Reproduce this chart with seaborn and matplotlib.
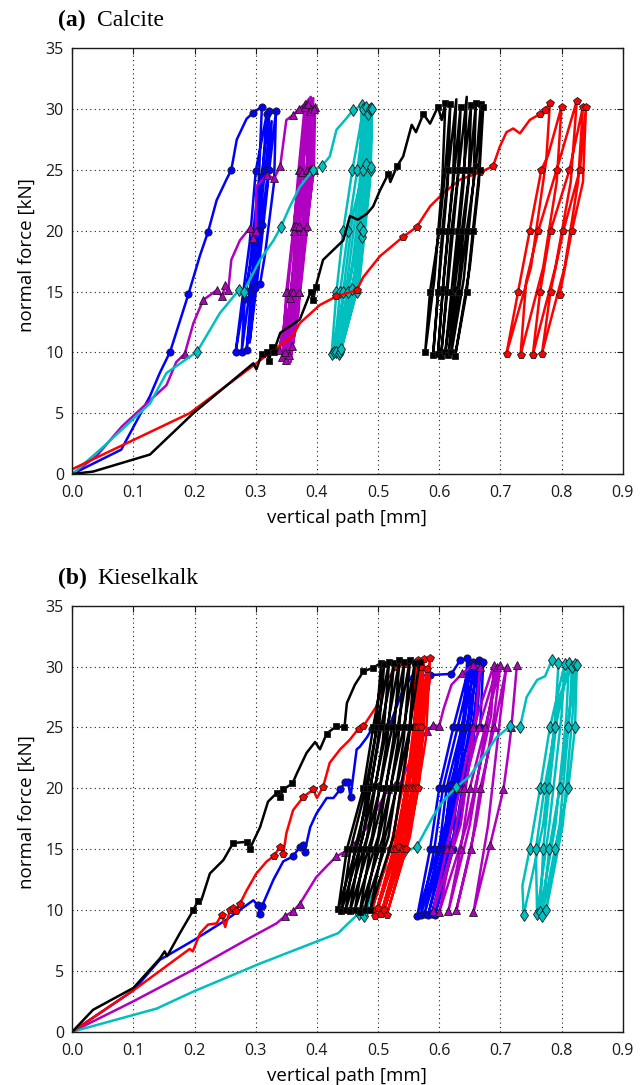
import matplotlib
matplotlib.use("Agg")
import matplotlib.pyplot as plt
import seaborn as sns
import pandas as pd

# ---------------- data (vertical path [mm], normal force [kN]) ----------------
A_BLUE_X = [0, 0.04, 0.08, 0.127, 0.143, 0.16, 0.19, 0.209, 0.222, 0.236, 0.252, 0.26, 0.269, 0.285, 0.296, 0.31,
            0.305, 0.29, 0.267, 0.277, 0.29, 0.30, 0.318,
            0.31, 0.295, 0.277, 0.282, 0.297, 0.31, 0.322,
            0.318, 0.30, 0.285, 0.293, 0.305, 0.315, 0.326,
            0.32, 0.305, 0.29, 0.299, 0.31, 0.322, 0.333,
            0.33, 0.315, 0.307]
A_BLUE_Y = [0, 1.0, 2.0, 6.4, 8.3, 10.05, 14.8, 18.0, 19.9, 22.5, 24.2, 25.0, 27.5, 29.2, 29.7, 30.2,
            24.2, 17, 10, 14.0, 19, 24.9, 29.6,
            24, 17, 10.05, 14.4, 19.0, 24.5, 29.8,
            24, 17, 10.2, 15.1, 20, 25, 29.0,
            24, 17, 10.8, 15.3, 20.5, 25, 29.8,
            24, 18, 15.6]

A_MAGENTA_X = [0, 0.04, 0.081, 0.154, 0.17, 0.184, 0.198, 0.214, 0.236, 0.245, 0.25, 0.255, 0.26, 0.274, 0.29, 0.295,
               0.30, 0.301, 0.318, 0.33, 0.34, 0.35, 0.361, 0.37, 0.38, 0.39,
               0.385, 0.365, 0.338, 0.346, 0.352, 0.362, 0.37, 0.38,
               0.378, 0.362, 0.343, 0.35, 0.362, 0.372, 0.385,
               0.383, 0.367, 0.35, 0.358, 0.366, 0.375, 0.39,
               0.388, 0.372, 0.355, 0.361, 0.37, 0.383, 0.394,
               0.392, 0.375, 0.357, 0.364, 0.372, 0.377, 0.388,
               0.386, 0.37, 0.348, 0.356, 0.37, 0.388, 0.397,
               0.395, 0.383, 0.371, 0.36, 0.37, 0.378, 0.39, 0.395]
A_MAGENTA_Y = [0, 1.5, 3.9, 7.3, 9.2, 9.9, 12.4, 14.3, 15.1, 14.6, 15.5, 15.1, 17.6, 19.2, 20.2, 19.4,
               20.0, 23.6, 24.6, 24.3, 25.3, 29.1, 29.5, 30.0, 30.4, 31.0,
               24, 16, 10.2, 12.2, 15, 20, 25, 30.2,
               24, 16, 9.6, 15, 20.4, 25, 30.4,
               24, 16, 9.4, 15, 20.4, 24.8, 30,
               24, 16.5, 9.8, 15, 20.3, 25, 30.9,
               24, 16, 9.2, 16.5, 22.7, 27.7, 29.8,
               24, 15, 10, 14.5, 20.4, 25, 30.2,
               25, 20.4, 15, 10.5, 13.3, 20, 25.1, 30]

A_CYAN_X = [0, 0.05, 0.127, 0.154, 0.204, 0.241, 0.272, 0.28, 0.307, 0.329, 0.341, 0.356, 0.372, 0.394, 0.408, 0.421,
            0.432, 0.446, 0.459, 0.473,
            0.47, 0.45, 0.424, 0.432, 0.443, 0.458, 0.476,
            0.474, 0.455, 0.428, 0.438, 0.451, 0.466, 0.48,
            0.478, 0.46, 0.432, 0.443, 0.459, 0.476, 0.483,
            0.481, 0.463, 0.436, 0.45, 0.47, 0.48, 0.486,
            0.484, 0.467, 0.438, 0.457, 0.474, 0.488, 0.489,
            0.487, 0.47, 0.44, 0.465, 0.476, 0.488, 0.49]
A_CYAN_Y = [0, 2.2, 5.8, 8.3, 10.05, 13.2, 15.1, 15.0, 17.6, 19.2, 20.3, 22.0, 23.6, 25.0, 25.3, 26.1,
            28.3, 29.1, 29.9, 30.3,
            24, 16, 9.9, 15, 20, 25, 30,
            24, 16, 10, 15, 20, 25, 30.2,
            24, 16, 10, 15, 21.4, 25, 29.6,
            24, 16, 9.9, 15, 20.3, 25.5, 30,
            24, 16, 10, 15.2, 19.5, 25, 30.1,
            24, 16, 10.3, 15, 20, 25.2, 30]

A_BLACK_X = [0, 0.034, 0.127, 0.198, 0.296, 0.301, 0.31, 0.318, 0.322, 0.326, 0.329, 0.34, 0.372, 0.39, 0.394, 0.398,
             0.41, 0.443, 0.454, 0.467, 0.482, 0.492, 0.503, 0.517, 0.52, 0.531, 0.541, 0.555, 0.562, 0.574, 0.585,
             0.598, 0.604, 0.61,
             0.605, 0.592, 0.577, 0.585, 0.6, 0.61, 0.618,
             0.614, 0.6, 0.59, 0.598, 0.605, 0.615, 0.628,
             0.622, 0.607, 0.598, 0.606, 0.615, 0.625, 0.635,
             0.63, 0.615, 0.603, 0.612, 0.62, 0.632, 0.645,
             0.64, 0.625, 0.61, 0.62, 0.63, 0.64, 0.652,
             0.648, 0.632, 0.615, 0.625, 0.637, 0.65, 0.66,
             0.656, 0.64, 0.62, 0.632, 0.645, 0.66, 0.668,
             0.665, 0.65, 0.626, 0.645, 0.655, 0.666, 0.672]
A_BLACK_Y = [0, 0.2, 1.6, 5.0, 9.1, 8.6, 9.9, 10.0, 9.3, 10.4, 10.0, 11.6, 12.7, 15.0, 14.3, 15.4,
             17.6, 19.2, 21.2, 20.9, 21.4, 22.0, 23.3, 24.7, 24.0, 25.3, 26.1, 28.7, 28.1, 29.6, 28.8,
             30.2, 29.1, 30.5,
             24, 16, 10, 15, 20, 25, 30.4,
             24, 16, 9.8, 15, 20, 25, 30.8,
             24, 16, 9.9, 15.2, 20, 25, 30.2,
             24, 16, 9.7, 15, 20, 25, 31,
             24, 16, 10, 15, 20, 25, 30.3,
             24, 16, 9.8, 15.2, 20, 25, 30.5,
             24, 16, 10, 15, 20, 25.3, 30.4,
             24, 17, 9.7, 15, 20, 25, 30.2]

A_RED_X = [0, 0.192, 0.301, 0.329, 0.36, 0.372, 0.405, 0.432, 0.465, 0.476, 0.503, 0.541, 0.563, 0.585, 0.607, 0.634,
           0.667, 0.688, 0.699, 0.71, 0.721, 0.732, 0.748, 0.765, 0.773, 0.781,
           0.775, 0.75, 0.71, 0.729, 0.748, 0.767, 0.778, 0.8,
           0.792, 0.77, 0.733, 0.742, 0.762, 0.792, 0.825,
           0.815, 0.79, 0.753, 0.765, 0.782, 0.813, 0.835,
           0.827, 0.805, 0.768, 0.782, 0.803, 0.83, 0.84,
           0.835, 0.817, 0.797]
A_RED_Y = [0.4, 5.0, 9.1, 10.2, 11.3, 12.4, 13.9, 14.6, 15.1, 16.2, 17.9, 19.5, 20.3, 22.0, 23.1, 24.2,
           24.8, 25.3, 26.9, 28.1, 28.4, 28.0, 29.1, 29.6, 29.9, 30.5,
           25.8, 17, 9.9, 15, 20, 25, 26.2, 30.2,
           24, 17, 9.8, 15.8, 20, 25, 30.7,
           24, 17, 9.8, 15, 20, 25, 30.2,
           24, 17, 9.9, 15, 20, 25, 30.2,
           24, 20, 14.7]

B_BLUE_X = [0, 0.1, 0.143, 0.198, 0.252, 0.296, 0.303, 0.307, 0.31, 0.329, 0.345, 0.361, 0.372, 0.378, 0.38, 0.389,
            0.399, 0.416, 0.427, 0.438, 0.446, 0.451, 0.455, 0.465, 0.47, 0.482, 0.49, 0.52, 0.54, 0.555, 0.585,
            0.62, 0.634, 0.646,
            0.64, 0.61, 0.564, 0.585, 0.6, 0.623, 0.65,
            0.643, 0.614, 0.57, 0.592, 0.606, 0.63, 0.655,
            0.648, 0.618, 0.576, 0.6, 0.612, 0.637, 0.66,
            0.653, 0.622, 0.582, 0.607, 0.618, 0.645, 0.665,
            0.658, 0.628, 0.588, 0.615, 0.624, 0.655, 0.668,
            0.662, 0.632, 0.593, 0.623, 0.628, 0.667, 0.672]
B_BLUE_Y = [0, 3.4, 5.9, 7.5, 9.2, 10.8, 10.4, 9.7, 10.3, 12.5, 14.0, 14.4, 15.2, 15.3, 14.8, 16.8,
            17.9, 19.2, 19.2, 19.9, 20.5, 20.5, 19.3, 23.2, 23.4, 24.2, 24.9, 25.3, 28.0, 29.2, 29.3,
            29.4, 30.5, 30.7,
            26, 17, 9.5, 15, 20, 25, 30.2,
            26, 17, 9.6, 15, 20, 25, 30.4,
            26, 17, 9.7, 15, 20, 25, 30.3,
            26, 17, 9.6, 15, 20.3, 25, 30.5,
            26, 17, 9.7, 15, 20, 25, 30.2,
            26, 17, 9.6, 15, 20, 25, 30.4]

B_MAGENTA_X = [0, 0.1, 0.198, 0.29, 0.334, 0.348, 0.361, 0.372, 0.399, 0.416, 0.432, 0.446, 0.459, 0.482, 0.497,
               0.516, 0.527, 0.535, 0.546, 0.563, 0.58, 0.59, 0.6, 0.607, 0.62, 0.638, 0.655, 0.667,
               0.66, 0.635, 0.59, 0.612, 0.634, 0.656, 0.689,
               0.685, 0.645, 0.6, 0.62, 0.64, 0.665, 0.695,
               0.68, 0.65, 0.615, 0.635, 0.65, 0.675, 0.7,
               0.69, 0.66, 0.628, 0.652, 0.667, 0.69, 0.71,
               0.7, 0.68, 0.656, 0.683, 0.705, 0.713, 0.718, 0.727]
B_MAGENTA_Y = [0, 2.5, 5.1, 7.7, 8.9, 9.5, 9.9, 10.5, 12.7, 13.6, 14.4, 14.8, 15.3, 16.8, 18.2,
               19.9, 20.3, 20.2, 21.5, 23.5, 24.7, 25.2, 25.1, 26.5, 28.5, 29.45, 30.1, 30.0,
               26, 17, 9.9, 15, 20, 25, 30.1,
               26, 17, 9.8, 15, 20, 25, 30.0,
               26, 17, 9.9, 15, 20, 25, 30.1,
               26, 17, 10, 15, 20, 25, 30,
               26, 17, 9.8, 15.3, 19.9, 22.9, 25, 30.1]

B_CYAN_X = [0, 0.138, 0.198, 0.307, 0.435, 0.449, 0.468, 0.473, 0.477, 0.48, 0.492, 0.508, 0.519, 0.541, 0.563,
            0.574, 0.59, 0.607, 0.628, 0.65, 0.672, 0.694, 0.716, 0.732, 0.743, 0.76, 0.773, 0.784, 0.795,
            0.79, 0.77, 0.738, 0.736, 0.748, 0.765, 0.781, 0.805,
            0.8, 0.78, 0.76, 0.758, 0.772, 0.79, 0.812,
            0.808, 0.79, 0.765, 0.77, 0.78, 0.796, 0.817,
            0.813, 0.797, 0.768, 0.78, 0.797, 0.81, 0.822,
            0.818, 0.802, 0.775, 0.79, 0.811, 0.822, 0.825]
B_CYAN_Y = [0, 1.9, 3.3, 5.6, 8.1, 8.8, 9.7, 10.0, 9.5, 10.0, 11.4, 13.0, 13.8, 14.7, 15.2,
            16.2, 17.7, 19.0, 20.1, 21.0, 22.6, 24.2, 25.1, 25.0, 27.5, 28.9, 29.2, 30.5, 30.3,
            26, 17, 9.6, 12, 15, 20, 25, 30.2,
            26, 17, 9.7, 15, 20, 25, 30.3,
            26, 17, 9.8, 15, 20, 27.5, 30,
            26, 17, 9.5, 15, 20, 25, 30.2,
            26, 17, 10, 15, 20, 25, 30.1]

B_BLACK_X = [0, 0.034, 0.1, 0.143, 0.151, 0.155, 0.176, 0.198, 0.205, 0.211, 0.225, 0.247, 0.263, 0.285, 0.29,
             0.307, 0.32, 0.334, 0.34, 0.345, 0.36, 0.367, 0.383, 0.397, 0.405, 0.416, 0.432, 0.445, 0.449,
             0.462, 0.476, 0.492, 0.505,
             0.495, 0.47, 0.435, 0.449, 0.476, 0.492, 0.51,
             0.5, 0.475, 0.44, 0.455, 0.48, 0.498, 0.518,
             0.508, 0.482, 0.447, 0.462, 0.487, 0.505, 0.526,
             0.515, 0.49, 0.454, 0.47, 0.495, 0.515, 0.535,
             0.525, 0.5, 0.462, 0.478, 0.503, 0.523, 0.543,
             0.533, 0.508, 0.47, 0.487, 0.512, 0.532, 0.552,
             0.542, 0.517, 0.478, 0.497, 0.52, 0.542, 0.56,
             0.55, 0.525, 0.487, 0.507, 0.53, 0.552, 0.568]
B_BLACK_Y = [0, 1.8, 3.6, 6.0, 6.6, 6.2, 8.1, 10.0, 10.7, 10.8, 13.0, 14.1, 15.5, 15.6, 15.0,
             16.8, 18.9, 19.6, 19.3, 19.9, 20.4, 21.2, 22.9, 23.8, 23.2, 24.5, 25.1, 25.0, 27.0,
             28.5, 29.6, 29.9, 30.3,
             24, 16, 10.1, 15, 20, 25, 30.2,
             24, 16, 9.9, 15, 20, 25, 30.4,
             24, 16, 10, 15, 20, 25, 30.3,
             24, 16, 9.9, 15, 20.2, 25, 30.5,
             24, 16, 10, 15, 20, 25, 30.4,
             24, 16, 9.8, 15, 20, 25, 30.5,
             24, 16, 10, 15, 20, 25, 30.3,
             24, 16, 10, 15, 20, 25, 30.4]

B_RED_X = [0, 0.1, 0.192, 0.197, 0.209, 0.222, 0.236, 0.244, 0.25, 0.258, 0.263, 0.268, 0.274, 0.285, 0.301,
           0.318, 0.329, 0.34, 0.345, 0.35, 0.361, 0.378, 0.394, 0.4, 0.41, 0.421, 0.438, 0.454, 0.468, 0.476,
           0.497, 0.508, 0.519, 0.53, 0.545, 0.56,
           0.55, 0.525, 0.49, 0.52, 0.54, 0.552, 0.565,
           0.558, 0.532, 0.495, 0.525, 0.546, 0.558, 0.57,
           0.563, 0.538, 0.5, 0.53, 0.55, 0.562, 0.575,
           0.568, 0.543, 0.505, 0.535, 0.556, 0.566, 0.58,
           0.573, 0.548, 0.51, 0.541, 0.56, 0.57, 0.585,
           0.578, 0.552, 0.514, 0.545, 0.566, 0.575, 0.585]
B_RED_Y = [0, 3.4, 6.8, 6.6, 8.1, 8.8, 8.9, 9.6, 8.6, 10.0, 10.2, 9.9, 10.5, 11.6, 13.0,
           14.0, 14.4, 15.2, 14.6, 16.3, 18.2, 19.3, 19.9, 19.2, 20.1, 22.1, 23.2, 24.0, 24.9, 25.1,
           26.7, 28.6, 29.2, 30.0, 30.2, 30.3,
           24, 16, 10, 15, 20, 25, 30.5,
           24, 16, 9.5, 15, 20, 25, 30,
           24, 16, 10.2, 15, 20, 25, 30.6,
           24, 16, 9.7, 15.2, 20, 25, 29.8,
           24, 16, 10, 15, 20, 25, 30.7,
           24, 16, 9.6, 15, 20, 26, 29]

X_TICKS = [0.0, 0.1, 0.2, 0.3, 0.4, 0.5, 0.6, 0.7, 0.8, 0.9]
X_TICKLABELS = ["0.0", "0.1", "0.2", "0.3", "0.4", "0.5", "0.6", "0.7", "0.8", "0.9"]
Y_TICKS = [0, 5, 10, 15, 20, 25, 30, 35]
Y_TICKLABELS = ["0", "5", "10", "15", "20", "25", "30", "35"]

# ---------------- styles ----------------
STYLE = {
    "blue":    dict(color="#0000FF", marker="o", ms=5.2),
    "magenta": dict(color="#B000C0", marker="^", ms=5.6),
    "cyan":    dict(color="#00BFBF", marker="d", ms=6.4),
    "red":     dict(color="#FF0000", marker="p", ms=5.6),
    "black":   dict(color="#000000", marker="s", ms=4.6),
}

PANEL_A = [("blue", A_BLUE_X, A_BLUE_Y), ("magenta", A_MAGENTA_X, A_MAGENTA_Y),
           ("cyan", A_CYAN_X, A_CYAN_Y), ("red", A_RED_X, A_RED_Y), ("black", A_BLACK_X, A_BLACK_Y)]
PANEL_B = [("blue", B_BLUE_X, B_BLUE_Y), ("magenta", B_MAGENTA_X, B_MAGENTA_Y),
           ("cyan", B_CYAN_X, B_CYAN_Y), ("red", B_RED_X, B_RED_Y), ("black", B_BLACK_X, B_BLACK_Y)]


def marker_idx(ys):
    # markers sit on the holding levels (10, 15, 20, 25, 30 kN)
    return [i for i, v in enumerate(ys) if v >= 9 and abs(v - 5 * round(v / 5)) <= 0.7]


sns.set_theme(style="white")
plt.rcParams["font.family"] = ["Open Sans", "DejaVu Sans"]
plt.rcParams["text.color"] = "black"
plt.rcParams["axes.labelcolor"] = "black"

W, H = 644, 1085
fig = plt.figure(figsize=(W / 100, H / 100), dpi=100)
ax_a = fig.add_axes([72.3 / W, 1 - 474.0 / H, 550.4 / W, 425.8 / H])
ax_b = fig.add_axes([72.3 / W, 1 - 1031.7 / H, 550.4 / W, 426.0 / H])

for ax, series in ((ax_a, PANEL_A), (ax_b, PANEL_B)):
    for name, xs, ys in series:
        st = STYLE[name]
        df = pd.DataFrame({"path": xs, "force": ys})
        sns.lineplot(data=df, x="path", y="force", sort=False, estimator=None, ax=ax,
                     color=st["color"], lw=1.8, marker=st["marker"], markevery=marker_idx(ys),
                     ms=st["ms"], mfc=st["color"], mec="k", mew=0.6)
    ax.set_xlim(0, 0.9)
    ax.set_ylim(0, 35)
    ax.set_xticks(X_TICKS)
    ax.set_xticklabels(X_TICKLABELS)
    ax.set_yticks(Y_TICKS)
    ax.set_yticklabels(Y_TICKLABELS)
    ax.set_xlabel("")
    ax.set_ylabel("")
    ax.grid(True, linestyle=(0, (1, 3)), color="k", lw=0.8)
    ax.tick_params(direction="in", length=4, width=0.8, top=True, right=True,
                   labelsize=11.5, colors="k")
    ax.tick_params(axis="x", pad=8)
    ax.tick_params(axis="y", pad=6)
    for sp in ax.spines.values():
        sp.set_color("k")
        sp.set_linewidth(1.0)

serif = ["Liberation Serif", "DejaVu Serif"]
for base_y, letter, name in ((26, "(a)", "Calcite"), (584, "(b)", "Kieselkalk")):
    fig.text(58 / W, 1 - base_y / H, letter, fontsize=17, fontweight="bold", family=serif,
             va="baseline", color="black")
    fig.text(97 / W, 1 - base_y / H, name, fontsize=17, family=serif, va="baseline", color="black")

for cy in (255, 812):
    fig.text(26.5 / W, 1 - cy / H, "normal force [kN]", rotation=90, ha="center", va="center",
             fontsize=13.5, color="black")
for cy in (518, 1076):
    fig.text(347 / W, 1 - cy / H, "vertical path [mm]", ha="center", va="center",
             fontsize=13.5, color="black")

fig.savefig("out.png", dpi=100)
